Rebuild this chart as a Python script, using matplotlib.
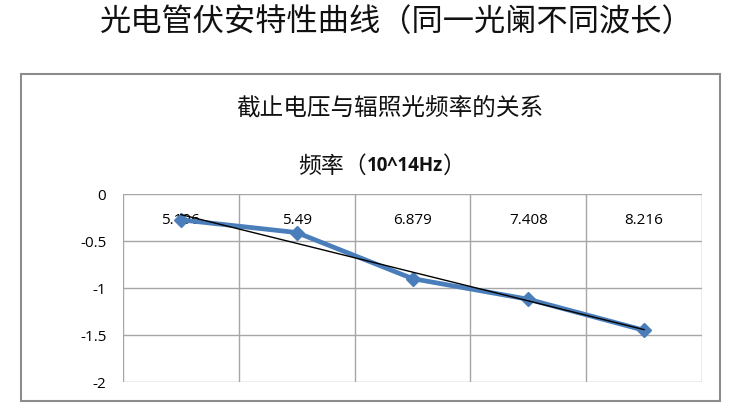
import matplotlib
matplotlib.use("Agg")
import matplotlib.pyplot as plt
import numpy as np
from matplotlib.patches import Rectangle

plt.rcParams['font.family'] = ['Noto Sans CJK SC', 'DejaVu Sans']

# Data
categories = ["5.196", "5.49", "6.879", "7.408", "8.216"]
voltage = [-0.275, -0.41, -0.90, -1.12, -1.45]
yticks = [0, -0.5, -1, -1.5, -2]
ytick_labels = ["0", "-0.5", "-1", "-1.5", "-2"]

fig = plt.figure(figsize=(7.49, 4.11), dpi=100)
fig.patch.set_facecolor('white')

# chart frame
frame = Rectangle((21/749, 1-401/411), 699/749, 327/411, transform=fig.transFigure,
                  facecolor='white', edgecolor='#8c8c8c', lw=1.5, zorder=-5)
fig.patches.append(frame)

fig.text(397/749, 1-22/411, "光电管伏安特性曲线（同一光阑不同波长）", ha='center', va='center',
         fontsize=22.5, color='#111111')
fig.text(390/749, 1-109/411, "截止电压与辐照光频率的关系", ha='center', va='center',
         fontsize=17, color='#111111')

ax = fig.add_axes([123/749, 1-382/411, 579/749, 188/411])
ax.set_zorder(2)
x = np.arange(1, len(categories)+1)

ax.plot(x, voltage, color='#4a7ebb', lw=3.4, marker='D', markersize=7.5,
        markerfacecolor='#4a7ebb', markeredgecolor='#4a7ebb', zorder=3)
coef = np.polyfit(x, voltage, 1)
ax.plot(x, np.polyval(coef, x), color='black', lw=1.0, zorder=4)

ax.set_xlim(0.5, len(categories)+0.5)
ax.set_ylim(-2, 0)
ax.set_yticks(yticks)
ax.set_yticklabels(ytick_labels, fontsize=11, family=['Open Sans'])
ax.set_xticks(x)
ax.set_xticklabels(categories, fontsize=11, family=['Open Sans'])
ax.xaxis.tick_top()
ax.tick_params(axis='x', length=0, pad=-13.5)
for lab in ax.get_xticklabels():
    lab.set_va('top')
ax.tick_params(axis='y', length=0, pad=12)

for b in np.arange(0.5, len(categories)+1, 1):
    ax.axvline(b, color='#a6a6a6', lw=1, zorder=1)
for yv in yticks:
    ax.axhline(yv, color='#a6a6a6', lw=1, zorder=1)
for s in ax.spines.values():
    s.set_visible(False)

# axis title (frequency) on top
t1 = ax.annotate("频率（", xy=(0.302, 1), xycoords='axes fraction', xytext=(0, 20),
                 textcoords='offset points', ha='left', va='center', fontsize=16.5, color='#111111')
t2 = ax.annotate("10^14Hz", xy=(1, 0.5), xycoords=t1, ha='left', va='center',
                 fontsize=13.5, fontweight='bold', family=['Open Sans'], color='#111111')
t3 = ax.annotate("）", xy=(1, 0.5), xycoords=t2, ha='left', va='center', fontsize=16.5, color='#111111')

fig.savefig("out.png", dpi=100)
